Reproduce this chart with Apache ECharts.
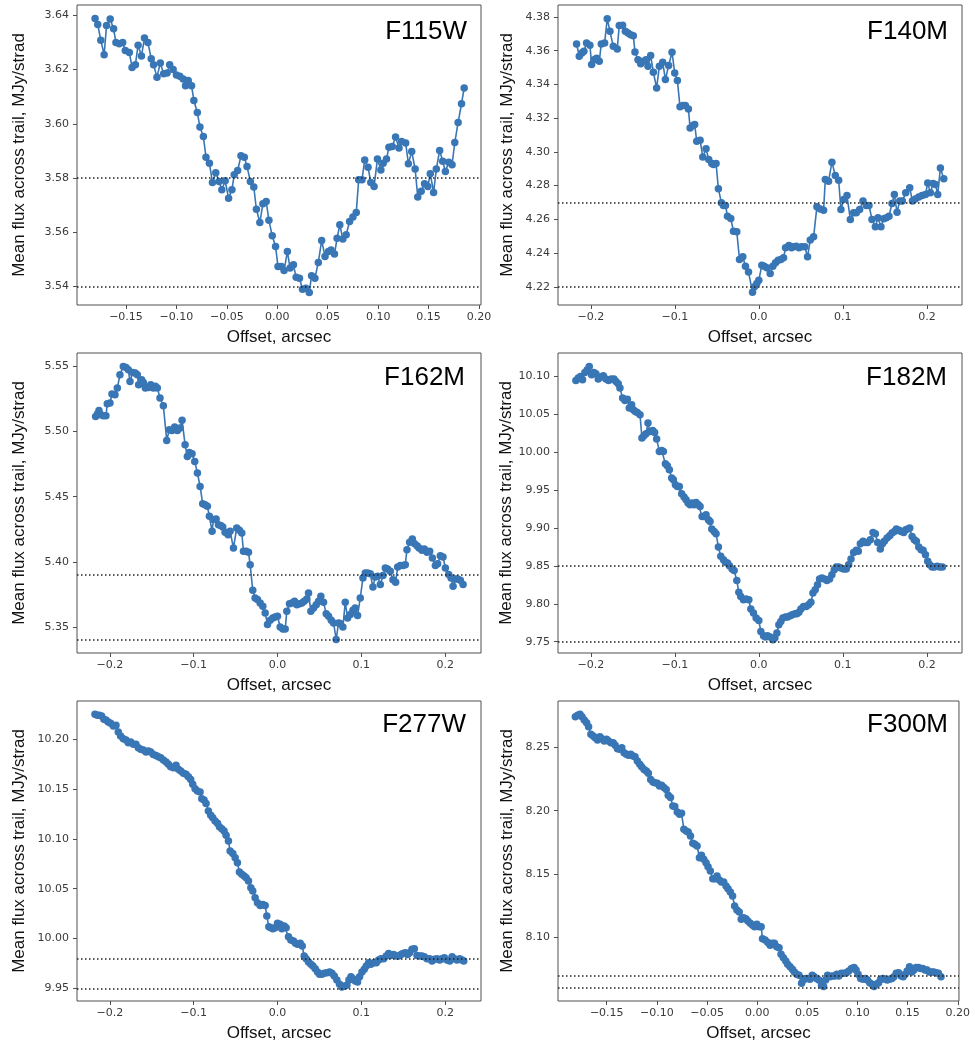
<!DOCTYPE html>
<html>
<head>
<meta charset="utf-8">
<script src="https://cdn.jsdelivr.net/npm/echarts@6/dist/echarts.min.js"></script>
<style>
  html, body { margin: 0; padding: 0; background: #ffffff; }
  #chart { width: 973px; height: 1044px; }
</style>
</head>
<body>
<div id="chart"></div>
<script>
// ---- Mean flux across the trail vs. offset, one profile per filter ----

// F115W
const f115wOffset = [-0.1807,-0.1780,-0.1750,-0.1717,-0.1693,-0.1657,-0.1623,-0.1600,-0.1567,-0.1533,-0.1507,-0.1467,-0.1440,-0.1407,-0.1380,-0.1347,-0.1317,-0.1283,-0.1250,-0.1227,-0.1193,-0.1160,-0.1127,-0.1093,-0.1067,-0.1033,-0.1000,-0.0967,-0.0933,-0.0910,-0.0883,-0.0850,-0.0827,-0.0793,-0.0767,-0.0733,-0.0707,-0.0673,-0.0643,-0.0610,-0.0577,-0.0550,-0.0517,-0.0483,-0.0450,-0.0427,-0.0393,-0.0360,-0.0327,-0.0300,-0.0267,-0.0233,-0.0207,-0.0173,-0.0143,-0.0110,-0.0083,-0.0050,-0.0017,0.0007,0.0040,0.0067,0.0100,0.0127,0.0160,0.0187,0.0220,0.0250,0.0283,0.0317,0.0340,0.0373,0.0407,0.0440,0.0473,0.0507,0.0533,0.0567,0.0593,0.0620,0.0650,0.0683,0.0717,0.0750,0.0783,0.0807,0.0840,0.0867,0.0900,0.0927,0.0960,0.0993,0.1027,0.1050,0.1083,0.1107,0.1140,0.1173,0.1207,0.1233,0.1273,0.1300,0.1333,0.1367,0.1393,0.1427,0.1460,0.1493,0.1517,0.1550,0.1577,0.1610,0.1640,0.1667,0.1700,0.1733,0.1760,0.1793,0.1827,0.1853];
const f115wFlux = [3.6388,3.6366,3.6308,3.6255,3.6362,3.6386,3.6350,3.6300,3.6295,3.6300,3.6270,3.6263,3.6208,3.6218,3.6290,3.6250,3.6316,3.6300,3.6240,3.6218,3.6172,3.6224,3.6185,3.6187,3.6218,3.6200,3.6180,3.6175,3.6165,3.6140,3.6160,3.6140,3.6086,3.6042,3.5988,3.5953,3.5877,3.5855,3.5784,3.5820,3.5787,3.5757,3.5790,3.5726,3.5757,3.5812,3.5828,3.5882,3.5877,3.5843,3.5787,3.5767,3.5685,3.5636,3.5705,3.5714,3.5644,3.5587,3.5548,3.5474,3.5474,3.5459,3.5529,3.5468,3.5480,3.5434,3.5431,3.5390,3.5394,3.5378,3.5440,3.5431,3.5489,3.5570,3.5511,3.5529,3.5535,3.5520,3.5578,3.5628,3.5575,3.5591,3.5640,3.5656,3.5673,3.5794,3.5794,3.5867,3.5840,3.5784,3.5769,3.5870,3.5830,3.5855,3.5870,3.5914,3.5916,3.5951,3.5911,3.5935,3.5929,3.5853,3.5898,3.5833,3.5730,3.5751,3.5779,3.5769,3.5816,3.5747,3.5833,3.5902,3.5862,3.5824,3.5858,3.5849,3.5931,3.6005,3.6074,3.6132];
const f115wLevels = [3.5773, 3.5378];

// F140M
const f140mOffset = [-0.2169,-0.2137,-0.2106,-0.2082,-0.2050,-0.2010,-0.1990,-0.1963,-0.1931,-0.1899,-0.1875,-0.1835,-0.1804,-0.1772,-0.1732,-0.1685,-0.1661,-0.1621,-0.1589,-0.1557,-0.1526,-0.1494,-0.1474,-0.1438,-0.1406,-0.1375,-0.1343,-0.1319,-0.1287,-0.1255,-0.1216,-0.1184,-0.1144,-0.1112,-0.1073,-0.1033,-0.1001,-0.0969,-0.0938,-0.0906,-0.0874,-0.0838,-0.0818,-0.0787,-0.0763,-0.0739,-0.0699,-0.0667,-0.0628,-0.0596,-0.0560,-0.0540,-0.0509,-0.0481,-0.0445,-0.0421,-0.0397,-0.0373,-0.0334,-0.0302,-0.0262,-0.0230,-0.0191,-0.0159,-0.0123,-0.0075,-0.0052,-0.0024,0.0000,0.0036,0.0064,0.0095,0.0135,0.0167,0.0199,0.0230,0.0262,0.0294,0.0318,0.0358,0.0389,0.0413,0.0445,0.0477,0.0509,0.0548,0.0580,0.0612,0.0652,0.0691,0.0731,0.0771,0.0791,0.0830,0.0870,0.0910,0.0950,0.0977,0.1009,0.1049,0.1089,0.1128,0.1160,0.1200,0.1240,0.1279,0.1311,0.1347,0.1387,0.1418,0.1454,0.1486,0.1518,0.1549,0.1585,0.1613,0.1645,0.1677,0.1708,0.1748,0.1796,0.1828,0.1863,0.1903,0.1943,0.1983,0.2010,0.2042,0.2074,0.2102,0.2129,0.2161,0.2201];
const f140mFlux = [4.3640,4.3567,4.3587,4.3597,4.3646,4.3632,4.3518,4.3547,4.3555,4.3537,4.3640,4.3646,4.3790,4.3715,4.3626,4.3610,4.3749,4.3751,4.3715,4.3705,4.3695,4.3689,4.3593,4.3547,4.3523,4.3537,4.3547,4.3508,4.3571,4.3472,4.3379,4.3508,4.3531,4.3429,4.3512,4.3591,4.3468,4.3423,4.3267,4.3275,4.3275,4.3255,4.3142,4.3156,4.3162,4.3063,4.3069,4.2970,4.3018,4.2955,4.2931,4.2925,4.2931,4.2781,4.2698,4.2682,4.2682,4.2619,4.2605,4.2530,4.2526,4.2362,4.2378,4.2322,4.2287,4.2168,4.2200,4.2220,4.2239,4.2328,4.2322,4.2313,4.2279,4.2322,4.2342,4.2358,4.2362,4.2372,4.2431,4.2445,4.2431,4.2437,4.2441,4.2431,4.2437,4.2437,4.2378,4.2477,4.2496,4.2674,4.2662,4.2654,4.2836,4.2826,4.2939,4.2860,4.2832,4.2658,4.2718,4.2741,4.2599,4.2639,4.2639,4.2658,4.2708,4.2682,4.2682,4.2599,4.2556,4.2609,4.2556,4.2603,4.2609,4.2619,4.2694,4.2747,4.2642,4.2708,4.2708,4.2757,4.2787,4.2708,4.2721,4.2733,4.2741,4.2747,4.2816,4.2757,4.2812,4.2806,4.2747,4.2905,4.2840];
const f140mLevels = [4.2654, 4.2168];

// F162M
const f162mOffset = [-0.2169,-0.2145,-0.2129,-0.2105,-0.2078,-0.2046,-0.2030,-0.1998,-0.1974,-0.1938,-0.1910,-0.1879,-0.1839,-0.1807,-0.1779,-0.1759,-0.1727,-0.1696,-0.1672,-0.1656,-0.1620,-0.1600,-0.1576,-0.1540,-0.1512,-0.1481,-0.1457,-0.1433,-0.1401,-0.1361,-0.1321,-0.1290,-0.1258,-0.1226,-0.1194,-0.1162,-0.1138,-0.1102,-0.1075,-0.1051,-0.1019,-0.0987,-0.0955,-0.0923,-0.0892,-0.0864,-0.0836,-0.0812,-0.0780,-0.0764,-0.0732,-0.0704,-0.0677,-0.0653,-0.0625,-0.0589,-0.0565,-0.0525,-0.0486,-0.0454,-0.0426,-0.0406,-0.0374,-0.0346,-0.0326,-0.0295,-0.0267,-0.0239,-0.0207,-0.0175,-0.0147,-0.0119,-0.0088,-0.0056,-0.0028,0.0000,0.0032,0.0064,0.0092,0.0111,0.0143,0.0171,0.0203,0.0231,0.0263,0.0291,0.0318,0.0350,0.0370,0.0398,0.0430,0.0462,0.0490,0.0517,0.0549,0.0581,0.0609,0.0641,0.0669,0.0700,0.0728,0.0748,0.0780,0.0808,0.0836,0.0868,0.0900,0.0927,0.0955,0.0987,0.1019,0.1047,0.1075,0.1106,0.1138,0.1166,0.1194,0.1226,0.1258,0.1286,0.1313,0.1345,0.1377,0.1409,0.1433,0.1465,0.1497,0.1524,0.1544,0.1576,0.1608,0.1632,0.1664,0.1688,0.1723,0.1751,0.1783,0.1815,0.1847,0.1883,0.1910,0.1942,0.1974,0.2002,0.2042,0.2070,0.2094,0.2121,0.2149,0.2181,0.2213];
const f162mFlux = [5.5116,5.5137,5.5162,5.5129,5.5121,5.5121,5.5214,5.5219,5.5288,5.5283,5.5334,5.5436,5.5500,5.5492,5.5474,5.5385,5.5454,5.5449,5.5436,5.5359,5.5398,5.5377,5.5334,5.5339,5.5359,5.5334,5.5347,5.5334,5.5257,5.5198,5.4932,5.5014,5.5009,5.5035,5.5009,5.5027,5.5086,5.4899,5.4809,5.4840,5.4830,5.4771,5.4682,5.4579,5.4446,5.4439,5.4426,5.4349,5.4234,5.4324,5.4329,5.4285,5.4278,5.4267,5.4226,5.4208,5.4234,5.4106,5.4260,5.4242,5.4221,5.4081,5.4081,5.4073,5.3978,5.3781,5.3722,5.3710,5.3684,5.3658,5.3607,5.3518,5.3551,5.3569,5.3577,5.3582,5.3500,5.3485,5.3485,5.3620,5.3679,5.3684,5.3697,5.3671,5.3679,5.3684,5.3697,5.3715,5.3761,5.3620,5.3646,5.3671,5.3697,5.3736,5.3689,5.3602,5.3582,5.3551,5.3531,5.3403,5.3531,5.3526,5.3500,5.3689,5.3569,5.3595,5.3628,5.3646,5.3587,5.3722,5.3876,5.3914,5.3914,5.3909,5.3807,5.3884,5.3889,5.3825,5.3894,5.3953,5.3945,5.3927,5.3863,5.3843,5.3960,5.3971,5.3971,5.3978,5.4093,5.4150,5.4175,5.4140,5.4124,5.4106,5.4088,5.4098,5.4073,5.4081,5.4029,5.3971,5.3986,5.4047,5.4037,5.3953,5.3902,5.3876,5.3812,5.3868,5.3868,5.3858,5.3825];
const f162mLevels = [5.3935, 5.3403];

// F182M
const f182mOffset = [-0.2177,-0.2149,-0.2122,-0.2098,-0.2070,-0.2042,-0.2018,-0.1990,-0.1963,-0.1939,-0.1911,-0.1883,-0.1851,-0.1820,-0.1788,-0.1756,-0.1724,-0.1700,-0.1673,-0.1653,-0.1621,-0.1593,-0.1565,-0.1542,-0.1514,-0.1494,-0.1470,-0.1446,-0.1414,-0.1391,-0.1367,-0.1343,-0.1319,-0.1295,-0.1263,-0.1240,-0.1216,-0.1184,-0.1156,-0.1136,-0.1112,-0.1089,-0.1065,-0.1037,-0.1017,-0.0993,-0.0969,-0.0946,-0.0918,-0.0890,-0.0866,-0.0842,-0.0818,-0.0795,-0.0771,-0.0747,-0.0719,-0.0699,-0.0675,-0.0652,-0.0628,-0.0600,-0.0580,-0.0560,-0.0532,-0.0509,-0.0481,-0.0453,-0.0421,-0.0397,-0.0373,-0.0350,-0.0318,-0.0294,-0.0262,-0.0238,-0.0215,-0.0183,-0.0151,-0.0119,-0.0095,-0.0064,-0.0032,0.0000,0.0024,0.0056,0.0079,0.0103,0.0135,0.0167,0.0191,0.0215,0.0238,0.0262,0.0286,0.0318,0.0342,0.0373,0.0397,0.0429,0.0453,0.0477,0.0501,0.0532,0.0564,0.0592,0.0620,0.0644,0.0671,0.0699,0.0723,0.0751,0.0779,0.0810,0.0842,0.0870,0.0898,0.0922,0.0950,0.0977,0.1009,0.1041,0.1069,0.1097,0.1128,0.1160,0.1184,0.1208,0.1240,0.1267,0.1295,0.1327,0.1359,0.1387,0.1414,0.1446,0.1470,0.1494,0.1526,0.1557,0.1585,0.1613,0.1637,0.1669,0.1692,0.1724,0.1748,0.1772,0.1796,0.1824,0.1851,0.1875,0.1903,0.1931,0.1955,0.1983,0.2010,0.2034,0.2062,0.2090,0.2122,0.2153,0.2185];
const f182mFlux = [10.0947,10.0978,10.1000,10.0956,10.1053,10.1088,10.1132,10.1022,10.1053,10.1035,10.0965,10.0991,10.1009,10.0965,10.0947,10.0965,10.0965,10.0934,10.0903,10.0846,10.0714,10.0683,10.0700,10.0582,10.0626,10.0560,10.0538,10.0525,10.0494,10.0187,10.0217,10.0244,10.0384,10.0274,10.0288,10.0261,10.0173,10.0011,10.0024,10.0011,9.9848,9.9822,9.9769,9.9659,9.9637,9.9571,9.9549,9.9549,9.9452,9.9408,9.9373,9.9329,9.9307,9.9329,9.9307,9.9338,9.9307,9.9285,9.9153,9.9153,9.9175,9.9109,9.9087,9.8986,9.8955,9.8925,9.8749,9.8626,9.8582,9.8547,9.8538,9.8503,9.8459,9.8441,9.8309,9.8151,9.8098,9.8054,9.8063,9.8054,9.7931,9.7878,9.7812,9.7781,9.7636,9.7579,9.7562,9.7579,9.7562,9.7526,9.7548,9.7614,9.7724,9.7768,9.7812,9.7825,9.7825,9.7843,9.7856,9.7870,9.7870,9.7887,9.7931,9.7966,9.7966,9.7988,9.8019,9.8142,9.8186,9.8252,9.8327,9.8340,9.8327,9.8309,9.8327,9.8384,9.8450,9.8485,9.8485,9.8472,9.8459,9.8459,9.8516,9.8591,9.8678,9.8705,9.8692,9.8793,9.8824,9.8810,9.8810,9.8846,9.8942,9.8925,9.8810,9.8722,9.8793,9.8824,9.8867,9.8898,9.8933,9.8955,9.8986,9.8969,9.8955,9.8942,9.8977,9.8986,9.8999,9.8889,9.8846,9.8824,9.8749,9.8714,9.8705,9.8648,9.8560,9.8516,9.8485,9.8485,9.8494,9.8485,9.8485];
const f182mLevels = [9.8485, 9.7526];

// F277W
const f277wOffset = [-0.2177,-0.2149,-0.2125,-0.2098,-0.2070,-0.2046,-0.2018,-0.1990,-0.1958,-0.1926,-0.1899,-0.1871,-0.1839,-0.1807,-0.1779,-0.1751,-0.1719,-0.1688,-0.1660,-0.1632,-0.1600,-0.1568,-0.1540,-0.1512,-0.1481,-0.1449,-0.1421,-0.1393,-0.1361,-0.1329,-0.1301,-0.1274,-0.1242,-0.1210,-0.1182,-0.1154,-0.1122,-0.1091,-0.1063,-0.1035,-0.1011,-0.0983,-0.0955,-0.0923,-0.0903,-0.0876,-0.0852,-0.0824,-0.0796,-0.0772,-0.0744,-0.0716,-0.0693,-0.0665,-0.0637,-0.0613,-0.0585,-0.0565,-0.0533,-0.0505,-0.0478,-0.0454,-0.0426,-0.0398,-0.0374,-0.0346,-0.0318,-0.0295,-0.0267,-0.0239,-0.0207,-0.0175,-0.0147,-0.0127,-0.0103,-0.0080,-0.0056,-0.0028,0.0000,0.0032,0.0052,0.0080,0.0103,0.0131,0.0159,0.0191,0.0215,0.0239,0.0271,0.0295,0.0318,0.0342,0.0370,0.0398,0.0422,0.0450,0.0478,0.0501,0.0529,0.0557,0.0589,0.0621,0.0649,0.0677,0.0708,0.0740,0.0768,0.0796,0.0828,0.0852,0.0876,0.0900,0.0927,0.0955,0.0979,0.1007,0.1035,0.1059,0.1087,0.1114,0.1146,0.1178,0.1206,0.1234,0.1266,0.1297,0.1325,0.1353,0.1385,0.1417,0.1445,0.1473,0.1497,0.1524,0.1552,0.1576,0.1604,0.1632,0.1664,0.1696,0.1723,0.1751,0.1783,0.1815,0.1843,0.1871,0.1903,0.1934,0.1962,0.1990,0.2022,0.2054,0.2082,0.2109,0.2141,0.2173,0.2201,0.2221];
const f277wFlux = [10.2251,10.2241,10.2241,10.2234,10.2201,10.2194,10.2174,10.2161,10.2134,10.2141,10.2074,10.2033,10.2007,10.1993,10.1967,10.1973,10.1950,10.1950,10.1916,10.1900,10.1893,10.1873,10.1883,10.1873,10.1849,10.1839,10.1826,10.1816,10.1793,10.1772,10.1749,10.1726,10.1716,10.1739,10.1699,10.1682,10.1659,10.1649,10.1625,10.1598,10.1548,10.1505,10.1481,10.1471,10.1404,10.1391,10.1357,10.1280,10.1237,10.1214,10.1180,10.1157,10.1123,10.1103,10.1080,10.1036,10.0979,10.0879,10.0855,10.0812,10.0762,10.0668,10.0645,10.0628,10.0611,10.0578,10.0511,10.0477,10.0410,10.0360,10.0333,10.0343,10.0333,10.0226,10.0119,10.0109,10.0099,10.0109,10.0153,10.0143,10.0099,10.0126,10.0109,10.0019,9.9985,9.9975,9.9952,9.9942,9.9952,9.9925,9.9825,9.9798,9.9764,9.9741,9.9724,9.9697,9.9664,9.9641,9.9641,9.9651,9.9657,9.9664,9.9651,9.9624,9.9584,9.9540,9.9513,9.9523,9.9530,9.9584,9.9617,9.9597,9.9574,9.9564,9.9617,9.9664,9.9691,9.9724,9.9758,9.9741,9.9758,9.9758,9.9784,9.9798,9.9798,9.9825,9.9851,9.9831,9.9841,9.9825,9.9825,9.9841,9.9851,9.9858,9.9841,9.9858,9.9892,9.9898,9.9831,9.9825,9.9825,9.9818,9.9798,9.9798,9.9774,9.9791,9.9798,9.9784,9.9798,9.9808,9.9784,9.9774,9.9818,9.9798,9.9784,9.9798,9.9784,9.9774];
const f277wLevels = [9.9784, 9.9513];

// F300M
const f300mOffset = [-0.1813,-0.1790,-0.1767,-0.1747,-0.1724,-0.1701,-0.1681,-0.1658,-0.1635,-0.1615,-0.1592,-0.1568,-0.1549,-0.1525,-0.1502,-0.1482,-0.1459,-0.1436,-0.1416,-0.1393,-0.1370,-0.1350,-0.1327,-0.1304,-0.1284,-0.1261,-0.1238,-0.1218,-0.1195,-0.1171,-0.1152,-0.1128,-0.1105,-0.1085,-0.1062,-0.1039,-0.1019,-0.0996,-0.0973,-0.0953,-0.0930,-0.0907,-0.0887,-0.0864,-0.0841,-0.0821,-0.0797,-0.0774,-0.0754,-0.0731,-0.0708,-0.0688,-0.0665,-0.0642,-0.0622,-0.0599,-0.0576,-0.0556,-0.0533,-0.0510,-0.0490,-0.0467,-0.0443,-0.0424,-0.0400,-0.0377,-0.0357,-0.0334,-0.0311,-0.0291,-0.0268,-0.0245,-0.0225,-0.0202,-0.0179,-0.0159,-0.0136,-0.0113,-0.0093,-0.0069,-0.0046,-0.0026,-0.0003,0.0020,0.0040,0.0053,0.0079,0.0106,0.0129,0.0152,0.0172,0.0195,0.0218,0.0238,0.0261,0.0285,0.0304,0.0328,0.0351,0.0371,0.0394,0.0417,0.0443,0.0460,0.0483,0.0503,0.0526,0.0549,0.0569,0.0592,0.0615,0.0642,0.0662,0.0682,0.0702,0.0725,0.0748,0.0774,0.0794,0.0814,0.0840,0.0867,0.0890,0.0913,0.0940,0.0966,0.0986,0.1006,0.1032,0.1056,0.1079,0.1099,0.1122,0.1145,0.1165,0.1188,0.1211,0.1231,0.1254,0.1277,0.1297,0.1320,0.1343,0.1363,0.1387,0.1410,0.1436,0.1456,0.1476,0.1496,0.1519,0.1542,0.1562,0.1585,0.1608,0.1628,0.1651,0.1674,0.1694,0.1717,0.1741,0.1760,0.1784,0.1807,0.1833];
const f300mFlux = [8.2742,8.2753,8.2761,8.2742,8.2716,8.2695,8.2663,8.2603,8.2589,8.2576,8.2558,8.2584,8.2568,8.2550,8.2563,8.2550,8.2537,8.2537,8.2516,8.2489,8.2484,8.2497,8.2458,8.2445,8.2437,8.2445,8.2432,8.2426,8.2392,8.2366,8.2347,8.2326,8.2313,8.2295,8.2247,8.2226,8.2221,8.2216,8.2195,8.2200,8.2182,8.2168,8.2121,8.2103,8.2037,8.2032,8.1989,8.1971,8.1979,8.1853,8.1839,8.1832,8.1800,8.1742,8.1734,8.1721,8.1629,8.1647,8.1616,8.1589,8.1558,8.1524,8.1463,8.1463,8.1484,8.1453,8.1437,8.1437,8.1405,8.1384,8.1358,8.1326,8.1247,8.1216,8.1200,8.1142,8.1155,8.1147,8.1129,8.1111,8.1095,8.1084,8.1103,8.1084,8.1084,8.0989,8.0979,8.0958,8.0937,8.0953,8.0953,8.0926,8.0918,8.0866,8.0839,8.0813,8.0787,8.0768,8.0747,8.0726,8.0708,8.0700,8.0637,8.0663,8.0674,8.0674,8.0668,8.0700,8.0689,8.0674,8.0663,8.0621,8.0611,8.0663,8.0700,8.0689,8.0695,8.0695,8.0708,8.0695,8.0716,8.0716,8.0721,8.0734,8.0753,8.0761,8.0742,8.0708,8.0674,8.0668,8.0674,8.0663,8.0642,8.0629,8.0611,8.0629,8.0642,8.0668,8.0674,8.0668,8.0663,8.0668,8.0674,8.0689,8.0716,8.0721,8.0695,8.0689,8.0708,8.0734,8.0768,8.0726,8.0742,8.0761,8.0761,8.0753,8.0753,8.0742,8.0742,8.0726,8.0726,8.0726,8.0721,8.0716,8.0689];
const f300mLevels = [8.0708, 8.0611];

// Tick positions
const xTicksFine = [-0.15, -0.10, -0.05, 0.00, 0.05, 0.10, 0.15, 0.20];
const xTicksCoarse = [-0.2, -0.1, 0.0, 0.1, 0.2];
const f115wTicks = [3.54, 3.56, 3.58, 3.60, 3.62, 3.64];
const f140mTicks = [4.22, 4.24, 4.26, 4.28, 4.30, 4.32, 4.34, 4.36, 4.38];
const f162mTicks = [5.35, 5.40, 5.45, 5.50, 5.55];
const f182mTicks = [9.75, 9.80, 9.85, 9.90, 9.95, 10.00, 10.05, 10.10];
const f277wTicks = [9.95, 10.00, 10.05, 10.10, 10.15, 10.20];
const f300mTicks = [8.10, 8.15, 8.20, 8.25];

// Panel layout (pixel boxes and axis ranges)
const panels = [
  { label: 'F115W', offset: f115wOffset, flux: f115wFlux, levels: f115wLevels,
    xTicks: xTicksFine, xDec: 2, yTicks: f115wTicks, yDec: 2,
    box: [77, 5, 404, 300], xRange: [-0.1986, 0.2020], yRange: [3.5332, 3.6438],
    labelRight: 506, labelMid: 32, yGap: 49 },
  { label: 'F140M', offset: f140mOffset, flux: f140mFlux, levels: f140mLevels,
    xTicks: xTicksCoarse, xDec: 1, yTicks: f140mTicks, yDec: 2,
    box: [558, 5, 404, 300], xRange: [-0.2390, 0.2418], yRange: [4.2092, 4.3871],
    labelRight: 25, labelMid: 32, yGap: 42 },
  { label: 'F162M', offset: f162mOffset, flux: f162mFlux, levels: f162mLevels,
    xTicks: xTicksCoarse, xDec: 1, yTicks: f162mTicks, yDec: 2,
    box: [77, 353, 404, 300], xRange: [-0.2391, 0.2427], yRange: [5.3300, 5.5603],
    labelRight: 508, labelMid: 378, yGap: 49 },
  { label: 'F182M', offset: f182mOffset, flux: f182mFlux, levels: f182mLevels,
    xTicks: xTicksCoarse, xDec: 1, yTicks: f182mTicks, yDec: 2,
    box: [558, 353, 404, 300], xRange: [-0.2390, 0.2418], yRange: [9.7351, 10.1309],
    labelRight: 26, labelMid: 378, yGap: 42 },
  { label: 'F277W', offset: f277wOffset, flux: f277wFlux, levels: f277wLevels,
    xTicks: xTicksCoarse, xDec: 1, yTicks: f277wTicks, yDec: 2,
    box: [77, 701, 404, 300], xRange: [-0.2391, 0.2427], yRange: [9.9373, 10.2385],
    labelRight: 507, labelMid: 725, yGap: 49 },
  { label: 'F300M', offset: f300mOffset, flux: f300mFlux, levels: f300mLevels,
    xTicks: xTicksFine, xDec: 2, yTicks: f300mTicks, yDec: 2,
    box: [558, 701, 402, 300], xRange: [-0.1986, 0.2012], yRange: [8.0497, 8.2866],
    labelRight: 25, labelMid: 725, yGap: 42 }
];

const BLUE = '#3976b5';
const FRAME = '#505050';
const TEXT_FONT = '"Liberation Sans", Arial, Helvetica, sans-serif';
const TICK_FONT = '"DejaVu Sans", sans-serif';

function tickText(v, dec) {
  const s = Math.abs(v).toFixed(dec);
  return (v < 0 && Number(s) !== 0 ? '\u2212' : '') + s;
}

const grid = [], xAxis = [], yAxis = [], series = [], title = [];

panels.forEach((p, i) => {
  grid.push({
    left: p.box[0], top: p.box[1], width: p.box[2], height: p.box[3],
    show: true, borderColor: FRAME, borderWidth: 1, backgroundColor: 'transparent',
    containLabel: false
  });
  xAxis.push({
    type: 'value', gridIndex: i, min: p.xRange[0], max: p.xRange[1],
    splitLine: { show: false },
    axisLine: { show: false, onZero: false },
    axisTick: { show: true, customValues: p.xTicks, length: 4, lineStyle: { color: FRAME, width: 1 } },
    axisLabel: { customValues: p.xTicks, formatter: v => tickText(v, p.xDec), margin: 7,
                 color: '#3a3a3a', fontFamily: TICK_FONT, fontSize: 11 },
    name: 'Offset, arcsec', nameLocation: 'middle', nameGap: 24,
    nameTextStyle: { fontFamily: TEXT_FONT, fontSize: 17, color: '#111' }
  });
  yAxis.push({
    type: 'value', gridIndex: i, min: p.yRange[0], max: p.yRange[1],
    splitLine: { show: false },
    axisLine: { show: false, onZero: false },
    axisTick: { show: true, customValues: p.yTicks, length: 4, lineStyle: { color: FRAME, width: 1 } },
    axisLabel: { customValues: p.yTicks, formatter: v => tickText(v, p.yDec), margin: 8,
                 color: '#3a3a3a', fontFamily: TICK_FONT, fontSize: 11 },
    name: 'Mean flux across trail, MJy/strad', nameLocation: 'middle', nameRotate: 90, nameGap: p.yGap,
    nameTextStyle: { fontFamily: TEXT_FONT, fontSize: 17, color: '#111' }
  });
  series.push({
    type: 'line', xAxisIndex: i, yAxisIndex: i,
    data: p.offset.map((x, k) => [x, p.flux[k]]),
    symbol: 'circle', symbolSize: 7.5, showSymbol: true, showAllSymbol: true,
    lineStyle: { color: BLUE, width: 1.6 },
    itemStyle: { color: BLUE },
    emphasis: { disabled: true }, silent: true, clip: false,
    markLine: {
      silent: true, symbol: 'none', label: { show: false },
      lineStyle: { type: [1.5, 2.5], color: '#222', width: 1.5 },
      emphasis: { disabled: true },
      data: p.levels.map(v => ({ yAxis: v }))
    }
  });
  title.push({
    text: p.label, right: p.labelRight, top: p.labelMid - 14, padding: 0,
    textStyle: { fontFamily: TEXT_FONT, fontSize: 26, fontWeight: 'normal', color: '#000', lineHeight: 28 }
  });
});

const chart = echarts.init(document.getElementById('chart'), null, { renderer: 'canvas' });
chart.setOption({
  animation: false,
  backgroundColor: '#ffffff',
  title, grid, xAxis, yAxis, series
});
</script>
</body>
</html>
